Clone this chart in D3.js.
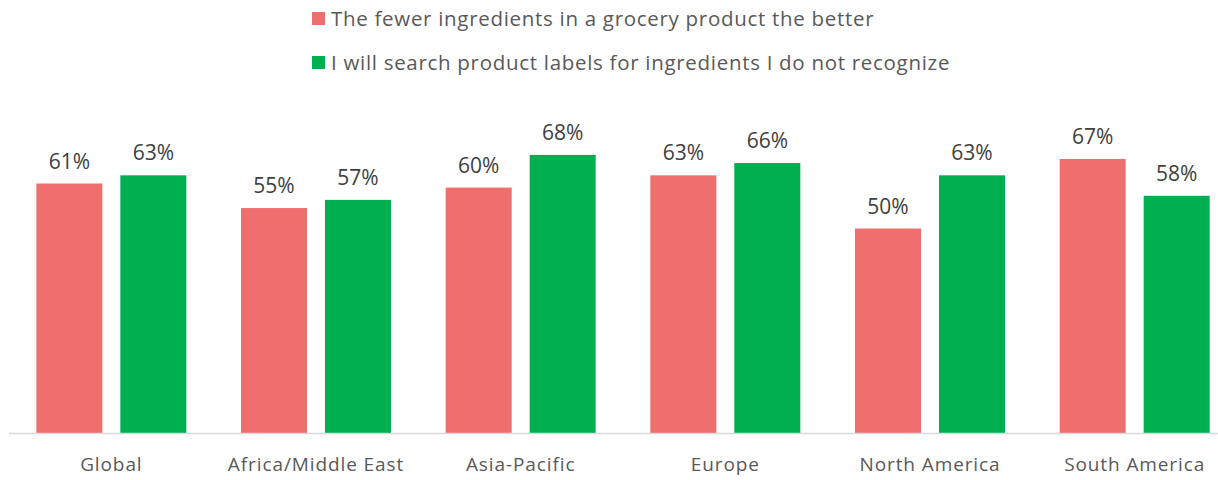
<!DOCTYPE html>
<html>
<head>
<meta charset="utf-8">
<script src="https://cdn.jsdelivr.net/npm/d3@7"></script>
<style>
  html, body { margin: 0; padding: 0; background: #fff; }
  svg { display: block; }
</style>
</head>
<body>
<svg id="chart" width="1218" height="480"></svg>
<script>
// Survey results by region
const regions = ["Global", "Africa/Middle East", "Asia-Pacific", "Europe", "North America", "South America"];
const seriesNames = [
  "The fewer ingredients in a grocery product the better",
  "I will search product labels for ingredients I do not recognize"
];
const fewerIngredients = [61, 55, 60, 63, 50, 67];
const searchLabels = [63, 57, 68, 66, 63, 58];
const seriesColors = ["#EF6E6E", "#00B050"];

const svg = d3.select("#chart");
const W = 1218, H = 480;
const fontFamily = "'Open Sans', 'Liberation Sans', sans-serif";

const baseY = 433;
const x0 = d3.scaleBand().domain(regions).range([9, 1237]).paddingInner(0).paddingOuter(0);
const y = d3.scaleLinear().domain([0, 100]).range([baseY, 24]);

const barW = 66, gap = 18;
const x1 = d3.scaleOrdinal().domain([0, 1]).range([-(gap / 2 + barW), gap / 2]);

const rows = regions.map((r, i) => ({ region: r, values: [fewerIngredients[i], searchLabels[i]] }));

const groups = svg.append("g").selectAll("g")
  .data(rows).join("g")
  .attr("transform", d => `translate(${x0(d.region) + x0.bandwidth() / 2},0)`);

groups.selectAll("rect")
  .data(d => d.values.map((v, k) => ({ v, k })))
  .join("rect")
  .attr("x", d => x1(d.k))
  .attr("width", barW)
  .attr("y", d => y(d.v))
  .attr("height", d => baseY - y(d.v))
  .attr("fill", d => seriesColors[d.k]);

groups.selectAll("text.val")
  .data(d => d.values.map((v, k) => ({ v, k })))
  .join("text")
  .attr("class", "val")
  .attr("x", d => x1(d.k) + barW / 2)
  .attr("y", d => y(d.v) - 15)
  .attr("text-anchor", "middle")
  .attr("font-family", fontFamily)
  .attr("font-size", 21)
  .attr("fill", "#404040")
  .text(d => d.v + "%");

// category axis
const xAxis = d3.axisBottom(x0).tickSize(0).tickPadding(25);
const axisG = svg.append("g").attr("transform", `translate(0,${baseY})`).call(xAxis);
axisG.select(".domain").remove();
axisG.append("line").attr("x1", 9).attr("x2", W).attr("y1", 0.5).attr("y2", 0.5)
  .attr("stroke", "#D9D9D9").attr("stroke-width", 1.5);
axisG.selectAll(".tick text")
  .attr("font-family", fontFamily)
  .attr("font-size", 19)
  .attr("letter-spacing", 0.9)
  .attr("fill", "#595959");

// legend
const legend = svg.append("g");
seriesNames.forEach((name, i) => {
  const ly = 26 + i * 44;
  legend.append("rect").attr("x", 312).attr("y", ly - 14).attr("width", 13).attr("height", 13)
    .attr("fill", seriesColors[i]);
  legend.append("text").attr("x", 331).attr("y", ly)
    .attr("font-family", fontFamily).attr("font-size", 20.5).attr("letter-spacing", 0.7)
    .attr("fill", "#595959")
    .text(name);
});
</script>
</body>
</html>
